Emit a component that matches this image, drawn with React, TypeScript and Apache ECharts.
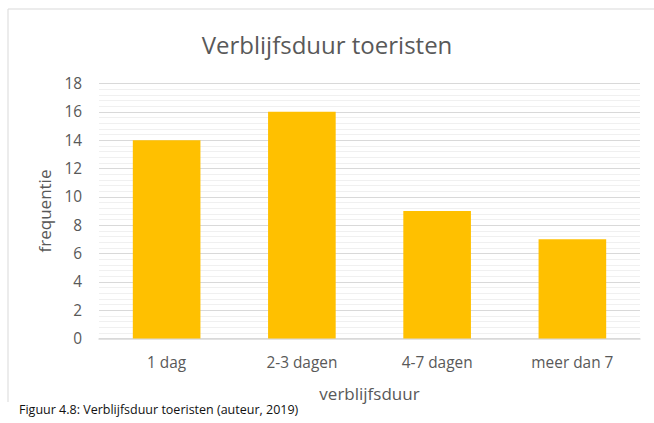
import React, { useEffect, useRef } from "react";
import * as echarts from "echarts";

const TITLE = "Verblijfsduur toeristen";
const CAPTION = "Figuur 4.8: Verblijfsduur toeristen (auteur, 2019)";
const categories = ["1 dag", "2-3 dagen", "4-7 dagen", "meer dan 7"];
const frequencies = [14, 16, 9, 7];
const X_NAME = "verblijfsduur";
const Y_NAME = "frequentie";
const Y_MIN = 0;
const Y_MAX = 18;
const Y_STEP = 2;

const FONT = "'Open Sans', 'Noto Sans', sans-serif";
const TEXT = "#595959";

export default function App() {
  const ref = useRef<HTMLDivElement>(null);
  useEffect(() => {
    if (!ref.current) return;
    const chart = echarts.init(ref.current, undefined, { renderer: "svg" });
    chart.setOption({
      animation: false,
      backgroundColor: "#ffffff",
      textStyle: { fontFamily: FONT },
      title: {
        text: TITLE,
        left: "center",
        top: 27,
        textStyle: { fontFamily: FONT, fontSize: 24, fontWeight: "normal", color: TEXT },
      },
      grid: { left: 99, right: 14, top: 83.5, bottom: 84.5, containLabel: false },
      xAxis: {
        type: "category",
        data: categories,
        name: X_NAME,
        nameLocation: "middle",
        nameGap: 46,
        nameTextStyle: { fontFamily: FONT, fontSize: 17, color: TEXT },
        axisLine: { show: true, lineStyle: { color: "#d9d9d9", width: 1.5 } },
        axisTick: { show: false },
        axisLabel: { fontFamily: FONT, fontSize: 15.4, color: TEXT, margin: 16 },
      },
      yAxis: {
        type: "value",
        min: Y_MIN,
        max: Y_MAX,
        interval: Y_STEP,
        name: Y_NAME,
        nameLocation: "middle",
        nameGap: 46,
        nameRotate: 90,
        nameTextStyle: { fontFamily: FONT, fontSize: 17, color: TEXT },
        axisLine: { show: false },
        axisTick: { show: false },
        axisLabel: { fontFamily: FONT, fontSize: 15.4, color: TEXT, margin: 17 },
        splitLine: { show: true, lineStyle: { color: "#d9d9d9", width: 1.2 } },
        minorTick: { show: false, splitNumber: 5 },
        minorSplitLine: { show: true, lineStyle: { color: "#f0f0f0", width: 1 } },
      },
      series: [
        {
          type: "bar",
          data: frequencies,
          barWidth: "50%",
          itemStyle: { color: "#FFC000" },
          z: 3,
        },
      ],
      graphic: [
        {
          type: "line",
          shape: { x1: 8, y1: 9, x2: 654, y2: 9 },
          style: { stroke: "#d9d9d9", lineWidth: 1 },
        },
        {
          type: "line",
          shape: { x1: 8, y1: 9, x2: 8, y2: 402 },
          style: { stroke: "#d9d9d9", lineWidth: 1 },
        },
        {
          type: "text",
          left: 19,
          top: 403,
          style: { text: CAPTION, fontFamily: FONT, fontSize: 12.5, fill: "#111111" },
        },
      ],
    });
    return () => chart.dispose();
  }, []);
  return (
    <div
      ref={ref}
      style={{ position: "fixed", left: 0, top: 0, width: 654, height: 423 }}
    />
  );
}
